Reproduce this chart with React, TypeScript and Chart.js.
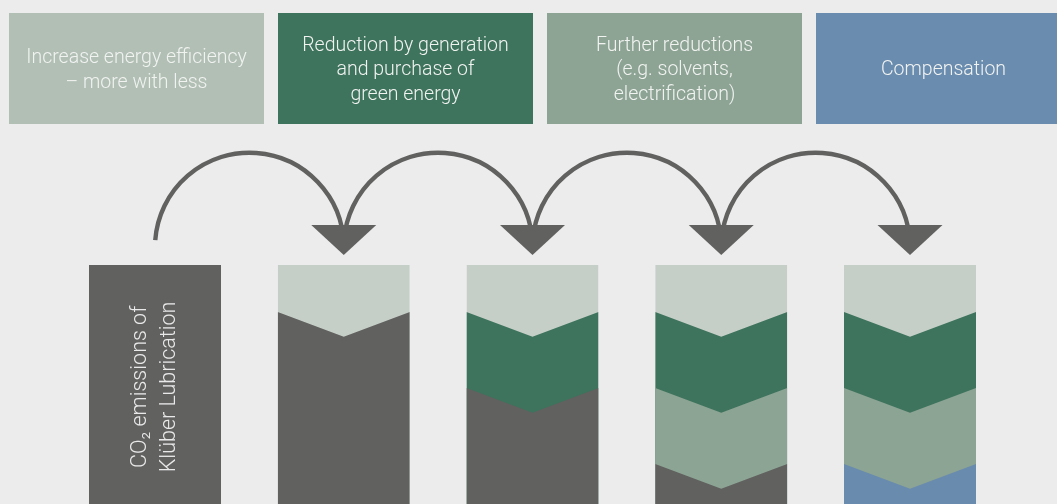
import React, { useEffect, useRef } from 'react';
import { Chart, registerables } from 'chart.js';

Chart.register(...registerables);

// ---------- data ----------
const stepPositions = [1, 2, 3, 4, 5];
const firstColumnLines = ['CO₂ emissions of', 'Klüber Lubrication'];
const headerMeasures = ['efficiency', 'green', 'further', 'compensation'];
const headerLines = [
  ['Increase energy efficiency', '– more with less'],
  ['Reduction by generation', 'and purchase of', 'green energy'],
  ['Further reductions', '(e.g. solvents,', 'electrification)'],
  ['Compensation'],
];
// edge value of the top of each band (percent of column height), top to bottom
const bandTops = [100, 80.3, 48.5, 16.7];
const chevronDip = 10.3;
// which measure fills each band, per column (top to bottom)
const columnBands = [
  ['emissions', 'emissions', 'emissions', 'emissions'],
  ['efficiency', 'emissions', 'emissions', 'emissions'],
  ['efficiency', 'green', 'emissions', 'emissions'],
  ['efficiency', 'green', 'further', 'emissions'],
  ['efficiency', 'green', 'further', 'compensation'],
];

// ---------- styles / layout ----------
const BG = '#ececec';
const COLORS: Record<string, string> = {
  emissions: '#616160',
  efficiency: '#c5cfc7',
  green: '#3e735d',
  further: '#8ca493',
  compensation: '#698bae',
};
const HEADER_COLORS: Record<string, string> = {
  efficiency: '#b1bfb5',
  green: '#3e735d',
  further: '#8da494',
  compensation: '#6a8caf',
};
const W = 1057;
const H = 504;
const X_MIN = 0.1788;
const X_MAX = 5.7788;
const Y_MAX = 210.88;
const HALF_WIDTH = 0.3497;
const ARC_CENTER = 107.5;
const ARC_TRIM = 0.074;
const ARROW_TOP = 116.7;
const ARROW_TIP = 104.2;
const ARROW_HALF = 32.5;
const LABEL_Y = 49;
const FONT = 'Roboto, "Liberation Sans", sans-serif';

const decorPlugin = {
  id: 'decor',
  afterDatasetsDraw(chart: any) {
    const ctx = chart.ctx as CanvasRenderingContext2D;
    const xs = chart.scales.x;
    const ys = chart.scales.y;
    ctx.save();

    // header boxes
    const boxX0 = 9, boxPitch = 269, boxW = 255, boxY0 = 13, boxH = 111;
    headerMeasures.forEach((m, i) => {
      const x = boxX0 + i * boxPitch;
      ctx.fillStyle = HEADER_COLORS[m];
      ctx.fillRect(x, boxY0, boxW, boxH);
      const lines = headerLines[i];
      ctx.fillStyle = '#f1f3f1';
      ctx.font = `300 19.5px ${FONT}`;
      ctx.textAlign = 'center';
      ctx.textBaseline = 'middle';
      const lh = 24.5;
      const cy = 70.5;
      lines.forEach((t, k) => {
        ctx.fillText(t, x + boxW / 2, cy + (k - (lines.length - 1) / 2) * lh);
      });
    });

    // rotated label in the first column
    const cx = xs.getPixelForValue(stepPositions[0]);
    const cyL = ys.getPixelForValue(LABEL_Y);
    ctx.translate(cx, cyL);
    ctx.rotate(-Math.PI / 2);
    ctx.fillStyle = '#e9e9e9';
    ctx.font = `300 21.5px ${FONT}`;
    ctx.textAlign = 'center';
    ctx.textBaseline = 'middle';
    firstColumnLines.forEach((t, k) => {
      ctx.fillText(t, 0, (k - 0.5) * 29);
    });
    ctx.setTransform(1, 0, 0, 1, 0, 0);
    ctx.restore();
    ctx.save();

    // arcs with arrowheads
    ctx.strokeStyle = COLORS.emissions;
    ctx.fillStyle = COLORS.emissions;
    ctx.lineWidth = 4.4;
    const acy = ys.getPixelForValue(ARC_CENTER);
    for (let i = 0; i < stepPositions.length - 1; i++) {
      const x1 = xs.getPixelForValue(stepPositions[i]);
      const x2 = xs.getPixelForValue(stepPositions[i + 1]);
      const r = (x2 - x1) / 2;
      ctx.beginPath();
      ctx.arc((x1 + x2) / 2, acy, r, Math.PI + ARC_TRIM, 2 * Math.PI - ARC_TRIM / 3, false);
      ctx.stroke();
    }
    const top = ys.getPixelForValue(ARROW_TOP);
    const tip = ys.getPixelForValue(ARROW_TIP);
    for (let i = 1; i < stepPositions.length; i++) {
      const x = xs.getPixelForValue(stepPositions[i]);
      ctx.beginPath();
      ctx.moveTo(x - ARROW_HALF, top);
      ctx.lineTo(x + ARROW_HALF, top);
      ctx.lineTo(x, tip);
      ctx.closePath();
      ctx.fill();
    }
    ctx.restore();
  },
};

const bgPlugin = {
  id: 'bg',
  beforeDraw(chart: any) {
    const ctx = chart.ctx;
    ctx.save();
    ctx.fillStyle = BG;
    ctx.fillRect(0, 0, chart.width, chart.height);
    ctx.restore();
  },
};

function buildDatasets() {
  const datasets: any[] = [];
  columnBands.forEach((bands, c) => {
    const x = stepPositions[c];
    bands.forEach((band, k) => {
      if (k > 0 && bands[k - 1] === band) return;
      const top = bandTops[k];
      const dip = k === 0 ? 0 : chevronDip;
      datasets.push({
        label: `${band}-${c}`,
        data: [
          { x: x - HALF_WIDTH, y: top },
          { x, y: top - dip },
          { x: x + HALF_WIDTH, y: top },
        ],
        backgroundColor: COLORS[band],
        borderColor: 'rgba(0,0,0,0)',
        borderWidth: 0,
        pointRadius: 0,
        pointHoverRadius: 0,
        tension: 0,
        fill: 'start',
        order: -k,
      });
    });
  });
  return datasets;
}

export default function App() {
  const ref = useRef<HTMLCanvasElement>(null);
  useEffect(() => {
    if (!ref.current) return;
    const chart = new Chart(ref.current, {
      type: 'line',
      data: { datasets: buildDatasets() },
      options: {
        animation: false,
        responsive: false,
        devicePixelRatio: 1,
        layout: { padding: 0 },
        events: [],
        plugins: {
          legend: { display: false },
          tooltip: { enabled: false },
          filler: { drawTime: 'beforeDatasetsDraw' },
        },
        scales: {
          x: { type: 'linear', min: X_MIN, max: X_MAX, display: false },
          y: { type: 'linear', min: 0, max: Y_MAX, display: false },
        },
      },
      plugins: [bgPlugin, decorPlugin],
    } as any);
    return () => chart.destroy();
  }, []);
  return (
    <div style={{ position: 'fixed', left: 0, top: 0, width: W, height: H, background: BG, overflow: 'hidden' }}>
      <canvas ref={ref} width={W} height={H} style={{ display: 'block', width: W, height: H }} />
    </div>
  );
}
